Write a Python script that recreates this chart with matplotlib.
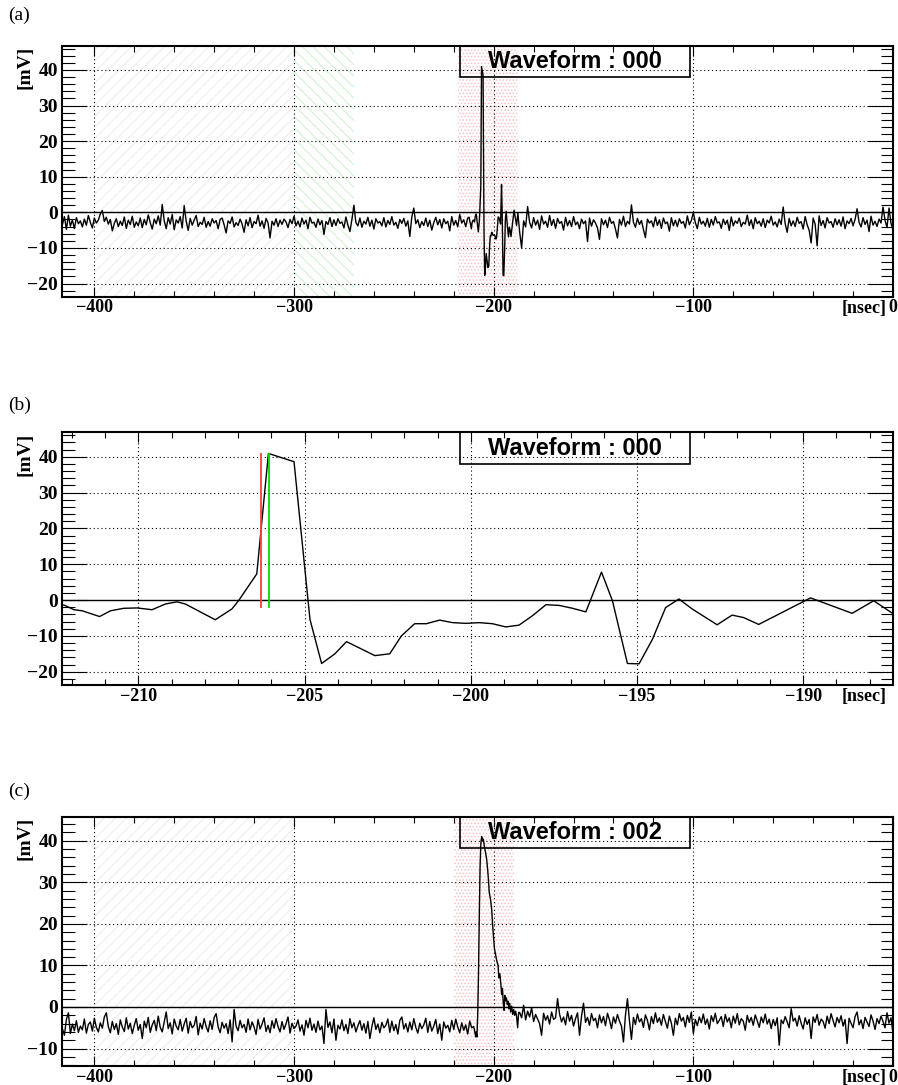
#!/usr/bin/env python3
# Waveform display: full record (a), zoom on pulse (b), second waveform (c)

import numpy as np
import matplotlib.pyplot as plt
from matplotlib.ticker import MultipleLocator
from matplotlib.patches import Rectangle

# ---- waveform 000, noise before the pulse, 1 ns steps from -416 ns
a_pre_t0 = -416
a_pre_mv = [
    -3.5, -1.2, -4.8, -0.8, -3.9, -2.1, -4.6, -1.5, -3.2, -2.4,
    -4.1, -1.9, -3.6, -0.9, -2.8, -4.4, -1.6, -3.0, -2.2, -0.4,
    0.5, -2.6, -1.4, -3.3, -2.0, -5.2, -3.1, -1.8, -4.0, -2.5,
    -3.7, -1.3, -4.5, -2.2, -3.4, -1.1, -4.2, -2.7, -3.8, -1.6,
    -4.3, -2.0, -3.5, -0.7, -2.9, -4.7, -1.9, -3.2, -1.0, -3.6,
    2.2, -2.4, -4.6, -1.5, -3.3, -0.6, -4.9, -2.1, -3.0, -1.2,
    -4.4, 1.9, -2.5, -5.1, -1.7, -3.6, -2.2, -0.9, -4.0, -2.8,
    -3.4, -1.4, -4.2, -2.6, -3.9, -1.8, -3.0, -2.3, -4.6, -2.0,
    -1.6, -3.5, -5.8, -2.4, -3.1, -1.3, -4.1, -2.9, -3.7, -1.9,
    -3.3, -5.6, -2.1, -3.8, -1.5, -4.3, -2.6, -3.2, -0.8, -3.9,
    -2.4, -4.5, -1.7, -3.0, -7.2, -2.5, -3.6, -1.8, -4.0, -2.2,
    -3.4, -1.9, -2.7, -4.3, -2.0, -3.2, -1.1, -3.8, -2.5, -4.1,
    -1.6, -3.3, -2.2, -4.6, -1.4, -3.0, -2.8, -4.2, -1.9, -3.5,
    -2.3, -6.2, -2.6, -3.4, -1.5, -4.0, -2.1, -3.7, -1.8, -3.1,
    -2.7, -4.4, -1.3, -3.6, -5.4, -2.0, 2.0, -2.9, -3.8, -1.6,
    -4.2, -2.5, -3.3, -1.4, -3.9, -2.2, -4.7, -1.8, -3.0, -2.6,
    -3.8, -1.5, -4.1, -2.3, -3.4, -1.2, -3.6, -2.8, -4.5, -2.0,
    -3.1, -1.7, -3.9, -2.4, -6.8, -1.3, 1.2, -3.2, -2.1, -4.3,
    -2.6, -3.7, -1.6, -4.0, -2.2, -5.0, -2.9, -1.4, -3.5, -2.0,
    -4.4, -1.8, -3.2, -2.5, -5.2, -1.2, -3.6, -2.3, -4.1, -0.6,
    -3.0, -2.1, -4.0, -1.6,
]

# ---- waveform 000 around the pulse (shown in b)
pulse_t = [
    -212.24, -211.94, -211.69, -211.17, -210.84, -210.44, -210.04, -209.59,
    -209.19, -208.84, -208.59, -207.69, -207.19, -206.99, -206.44, -206.09,
    -205.32, -204.84, -204.49, -204.09, -203.74, -202.89, -202.44, -202.09,
    -201.69, -201.34, -200.94, -200.55, -200.15, -199.75, -199.35, -198.95,
    -198.55, -198.15, -197.74, -197.34, -196.94, -196.54, -196.07, -195.74,
    -195.29, -194.94, -194.54, -194.14, -193.74, -193.34, -192.59, -192.14,
    -191.79, -191.34, -189.78, -188.53, -187.88, -187.38,
]
pulse_mv = [
    -1.4, -2.7, -3.0, -4.6, -3.0, -2.3, -2.2, -2.7,
    -1.1, -0.5, -1.1, -5.5, -2.5, -0.2, 7.3, 40.9,
    38.6, -5.4, -17.7, -15.0, -11.6, -15.5, -15.0, -10.0,
    -6.6, -6.6, -5.6, -6.3, -6.5, -6.3, -6.6, -7.5,
    -7.0, -4.4, -1.3, -1.5, -2.3, -3.3, 7.8, -0.2,
    -17.7, -17.8, -11.0, -2.1, 0.3, -2.5, -6.9, -4.2,
    -4.9, -6.8, 0.6, -3.7, -0.2, -3.3,
]

# ---- waveform 000 after the pulse, 1 ns steps from -187 ns
a_post_t0 = -187
a_post_mv = [
    -5.5, -10.0, -2.4, -4.1, 1.6, -2.8, -4.4, -1.5, -3.6, -2.2,
    -4.8, -1.0, -3.3, -2.5, -4.2, -0.9, -3.7, -2.0, -4.5, -1.7,
    -3.1, -2.6, -5.0, -1.4, -3.8, -2.3, -4.0, -1.2, -3.5, -2.7,
    -4.6, -1.9, -3.2, -2.4, -8.2, -1.6, -3.9, -2.1, -3.0, -4.4,
    -7.6, -1.8, -3.5, -2.2, -4.3, -1.4, -3.1, -2.6, -4.7, -7.2,
    -2.0, -3.6, -1.1, -4.0, -2.5, -3.3, 2.1, -2.8, -4.2, -1.7,
    -3.4, -2.3, -4.8, -7.1, -1.9, -3.0, -2.4, -4.1, -1.3, -3.7,
    -2.1, -4.5, -1.6, -3.2, -2.7, -5.3, -1.5, -3.8, -2.2, -4.0,
    -1.8, -3.1, -2.6, -4.4, -1.0, -3.5, -2.3, 0.0, -2.9, -4.6,
    -1.4, -3.3, -2.5, -3.9, -1.7, -4.2, -2.0, -3.6, -1.2, -3.0,
    -2.7, -4.5, -1.9, -3.4, -2.2, -5.1, -1.3, -3.8, -2.4, -3.1,
    -1.6, -4.0, -2.8, -3.3, -0.8, -3.7, -2.1, -4.6, -1.5, -3.2,
    -2.5, -3.9, -1.8, -4.3, -2.2, -3.0, -1.1, -3.6, -2.7, -4.1,
    -1.9, -3.4, 1.5, -3.2, -5.6, -1.7, -3.8, -2.4, -4.0, -1.4,
    -3.1, -2.6, -4.7, -1.2, -3.5, -5.0, -8.6, -1.6, -3.3, -9.4,
    -1.0, -3.7, -2.3, -4.4, -1.5, -3.0, -2.6, -4.2, -1.8, -3.5,
    -2.1, -3.9, -1.3, -4.6, -2.4, -3.2, -1.7, -3.8, -2.0, 1.0,
    -2.8, -4.1, -1.5, -3.4, -2.2, -5.4, -1.1, -3.6, -2.5, -4.0,
    -1.9, -3.0, 1.5, -2.2, -4.3, 1.2, -3.1, -4.9,
]

# ---- waveform 002
c_pre_t0 = -416
c_pre_mv = [
    -5.2, -6.8, -3.0, -1.4, -6.4, -4.1, -5.7, -3.3, -6.1, -4.6,
    -5.5, -2.9, -6.3, -4.2, -3.6, -5.8, -2.7, -4.9, -6.0, -3.8,
    -5.1, -2.4, -1.4, -4.7, -6.2, -3.5, -5.4, -4.0, -6.6, -3.1,
    -4.8, -5.9, -2.6, -5.3, -3.9, -6.4, -4.4, -2.8, -5.6, -4.2,
    -7.6, -3.4, -5.0, -2.5, -6.1, -4.3, -3.2, -5.7, -2.2, -4.9,
    -6.0, -3.6, -1.2, -5.2, -3.8, -6.5, -2.9, -4.6, -5.5, -3.0,
    -5.8, -4.1, -2.7, -6.3, -3.5, -5.0, -4.4, -2.3, -6.7, -3.9,
    -5.3, -2.8, -4.7, -6.0, -3.3, -5.4, -2.5, -1.6, -4.8, -6.2,
    -3.7, -5.1, -4.0, -6.4, -3.1, -8.4, -0.6, -4.6, -5.7, -3.2,
    -5.0, -4.2, -6.1, -2.9, -5.5, -3.6, -4.8, -6.6, -3.0, -5.3,
    -4.1, -2.6, -5.9, -4.4, -6.2, -3.3, -5.1, -2.8, -4.7, -6.0,
    -3.5, -5.4, -4.0, -2.4, -6.3, -3.9, -5.2, -4.6, -3.1, -5.8,
    -4.3, -6.8, -3.2, -5.0, -2.7, -5.6, -4.1, -6.1, -3.4, -5.5,
    -4.6, -8.8, -0.6, -4.9, -3.6, -6.2, -2.9, -8.0, -4.4, -5.3,
    -3.1, -5.7, -4.2, -6.4, -2.8, -5.0, -3.8, -6.0, -4.5, -3.3,
    -5.6, -4.0, -6.3, -3.5, -7.6, -4.7, -2.6, -5.4, -4.1, -6.2,
    -3.7, -5.0, -4.4, -2.9, -6.1, -3.4, -5.7, -4.2, -6.5, -3.2,
    -2.4, -5.3, -4.0, -6.0, -3.6, -5.5, -2.8, -4.9, -6.3, -3.9,
    -5.2, -4.3, -2.7, -6.1, -3.5, -5.8, -4.6, -3.0, -6.4, -4.1,
    -8.0, -3.6, -5.1, -4.4, -6.0, -3.2, -5.4, -2.9, -4.8, -6.2,
    -3.8, -5.6, -4.3, -6.5, -3.4, -5.0, -4.7, -7.2,
]
c_pulse_t = [
    -208.8, -208.4, -208.0, -207.6, -207.2, -206.8, -206.4, -206.0,
    -205.6, -205.2, -204.6, -204.0, -203.5, -203.0, -202.6, -202.2,
    -201.6, -201.0, -200.5, -200.0, -199.6, -199.0, -198.4, -197.8,
    -197.4, -196.9, -196.4, -196.0, -195.6, -195.2, -194.8, -194.4,
    -194.0, -193.6, -193.2, -192.8, -192.4, -192.0, -191.5, -191.0,
    -190.5, -190.0, -189.5, -189.0, -188.5, -188.0, -187.5,
]
c_pulse_mv = [
    -6.0, -7.2, -2.0, 8.0, 22.0, 34.0, 39.5, 41.0,
    40.0, 40.4, 38.5, 37.0, 35.5, 33.0, 30.5, 27.5,
    26.0, 23.5, 19.5, 16.5, 14.0, 12.5, 11.0, 10.0,
    7.0, 8.0, 5.5, 3.0, 4.5, 1.0, -0.8, 2.8,
    1.5, 2.2, 0.6, 1.4, -0.4, 0.9, -1.2, 0.2,
    -1.8, -0.6, -2.0, -1.0, -2.4, -5.0, -1.3,
]
c_post_t0 = -187
c_post_mv = [
    -1.3, -2.6, 0.4, -3.1, -1.0, -2.4, -0.2, -3.5, -1.8, -2.9,
    -4.0, -6.8, -1.5, -3.2, -2.1, -4.1, -1.2, -3.0, -2.6, 2.0,
    -1.7, -3.6, -2.4, -4.3, -1.1, -3.4, -2.0, -4.6, -2.8, -1.4,
    -6.8, -2.2, 0.9, -3.7, -2.5, -4.4, -1.6, -3.3, -2.7, -5.0,
    -1.9, -3.8, -2.3, -4.5, -1.5, -3.1, -5.2, -2.4, -3.9, -1.8,
    -3.4, -4.6, -8.4, -2.0, 2.0, -3.3, -7.8, -2.5, -4.2, -1.7,
    -3.6, -2.8, -4.9, -1.9, -3.2, -5.5, -2.3, -4.0, -1.4, -3.7,
    -2.6, -4.4, -1.8, -3.5, -5.1, -2.2, -3.9, -6.8, -2.7, -4.3,
    -1.6, -3.4, -2.5, -4.8, -2.0, -3.7, -1.2, -6.4, -3.0, -4.5,
    -2.4, -3.8, -1.7, -4.2, -2.9, -5.3, -2.1, -3.5, -1.5, -4.0,
    -3.2, -2.3, -4.7, -1.8, -3.6, -2.6, -5.0, -2.2, -3.9, -1.6,
    -4.3, -2.8, -3.4, -5.6, -2.0, -3.7, -2.5, -4.4, -1.9, -3.3,
    -4.9, -2.4, -3.8, -1.7, -4.1, -2.9, -5.2, -3.0, -4.5, -2.6,
    -9.2, -3.1, -4.0, -2.3, -3.6, -5.0, -0.4, -3.4, -2.7, -4.6,
    -2.1, -3.9, -5.3, -2.6, -4.2, -3.0, -7.6, -2.4, -3.7, -1.8,
    -4.4, -2.9, -3.5, -5.1, -2.2, -4.0, -1.6, -3.3, -4.8, -2.5,
    -3.8, -2.1, -4.6, -3.0, -8.8, -2.7, -3.9, -5.0, -2.3, -1.2,
    -4.3, -3.1, -5.2, -2.5, -3.6, -4.7, -1.9, -3.4, -5.4, -2.8,
    -4.0, -2.2, -3.5, -5.0, -1.4, -3.9, -2.6, -6.4,
]

# timing marks in (b) and analysis windows
red_mark_t = -206.30
green_mark_t = -206.06
mark_lo, mark_hi = -2.3, 41.0
base_win = (-400, -300)
ped_win_a = (-300, -270)
sig_win_a = (-218, -188)
sig_win_c = (-220, -190)

plt.rcParams['hatch.linewidth'] = 0.7
SERIF = 'Liberation Serif'
SANS = 'Liberation Sans'


def series(t0, vals):
    return t0 + np.arange(len(vals)), np.array(vals)


ta1, va1 = series(a_pre_t0, a_pre_mv)
ta2, va2 = series(a_post_t0, a_post_mv)
a_t = np.concatenate([ta1, pulse_t, ta2])
a_v = np.concatenate([va1, pulse_mv, va2])

tc1, vc1 = series(c_pre_t0, c_pre_mv)
tc2, vc2 = series(c_post_t0, c_post_mv)
c_t = np.concatenate([tc1, c_pulse_t, tc2])
c_v = np.concatenate([vc1, c_pulse_mv, vc2])

fig = plt.figure(figsize=(8.98, 10.85), dpi=100)


def panel(rect, t, v, xlim, ylim, xmaj, xmin, name, tag, ytop_px):
    ax = fig.add_axes(rect)
    ax.set_xlim(*xlim)
    ax.set_ylim(*ylim)
    ax.xaxis.set_major_locator(MultipleLocator(xmaj))
    ax.xaxis.set_minor_locator(MultipleLocator(xmin))
    ax.yaxis.set_major_locator(MultipleLocator(10))
    ax.yaxis.set_minor_locator(MultipleLocator(2))
    ax.grid(True, which='major', color='black', ls=(0, (1, 2.5)), lw=0.8, zorder=1)
    ax.axhline(0, color='black', lw=1.0, zorder=2)
    ax.plot(t, v, color='black', lw=1.0, zorder=3)
    for s in ax.spines.values():
        s.set_linewidth(1.5)
    ax.tick_params(which='both', direction='in', top=True, right=True, width=0.8)
    ax.tick_params(axis='y', labelsize=14, pad=3.0)
    ax.tick_params(axis='x', labelsize=13, pad=2.0)
    ax.tick_params(axis='y', which='major', length=18)
    ax.tick_params(axis='y', which='minor', length=9)
    ax.tick_params(axis='x', which='major', length=7)
    ax.tick_params(axis='x', which='minor', length=4)
    for lab in ax.get_xticklabels() + ax.get_yticklabels():
        lab.set_fontfamily(SERIF)
        lab.set_fontweight('bold')
    ax.text(-0.044, 1.0, '[mV]', transform=ax.transAxes, rotation=90, ha='center',
            va='top', fontsize=14, fontweight='bold', family=SERIF)
    ax.text(0.9925, -0.012, '[nsec]', transform=ax.transAxes, ha='right', va='top',
            fontsize=13, fontweight='bold', family=SERIF)
    ax.add_patch(Rectangle((0.479, 0.876), 0.277, 0.124, transform=ax.transAxes,
                           fill=False, ec='black', lw=1.2, zorder=4, clip_on=False))
    ax.text(0.617, 0.937, name, transform=ax.transAxes, ha='center', va='center',
            fontsize=17, fontweight='bold', family=SANS, zorder=5)
    fig.text(0.009, 1 - ytop_px / 1085, tag, ha='left', va='top', fontsize=14,
             family=SERIF)
    return ax


W, H = 898, 1085
left, width = 62 / W, 831 / W

ax_a = panel([left, 1 - 296.7 / H, width, 251 / H], a_t, a_v, (-416.2, 0),
             (-23.7, 46.8), 100, 20, 'Waveform : 000', '(a)', 7)
ax_a.axvspan(*base_win, facecolor='none', edgecolor='#ececec', hatch='///', lw=0, zorder=0)
ax_a.axvspan(*ped_win_a, facecolor='none', edgecolor='#cdf0cd', hatch='\\\\\\', lw=0, zorder=0)
ax_a.axvspan(*sig_win_a, facecolor='none', edgecolor='#f6c2c2', hatch='.....', lw=0, zorder=0)

ax_b = panel([left, 1 - 685 / H, width, 252.7 / H], a_t, a_v, (-212.3, -187.3),
             (-23.7, 46.8), 5, 1, 'Waveform : 000', '(b)', 397)
ax_b.vlines(red_mark_t, mark_lo, mark_hi, color='#ff3b3b', lw=1.3, zorder=4)
ax_b.vlines(green_mark_t, mark_lo, mark_hi, color='#00dd00', lw=1.3, zorder=4)

ax_c = panel([left, 1 - 1066 / H, width, 249.3 / H], c_t, c_v, (-416.2, 0),
             (-14.2, 45.8), 100, 20, 'Waveform : 002', '(c)', 783)
ax_c.axvspan(*base_win, facecolor='none', edgecolor='#ececec', hatch='///', lw=0, zorder=0)
ax_c.axvspan(*sig_win_c, facecolor='none', edgecolor='#f6c2c2', hatch='.....', lw=0, zorder=0)

fig.savefig('out.png', dpi=100)
